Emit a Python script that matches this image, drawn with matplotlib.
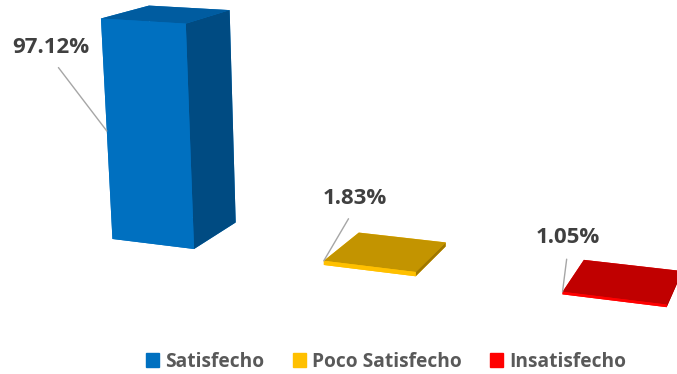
import numpy as np
import matplotlib
matplotlib.use('Agg')
import matplotlib.pyplot as plt
from matplotlib.patches import Patch
from mpl_toolkits.mplot3d import proj3d

plt.rcParams['font.family'] = ['Open Sans', 'DejaVu Sans']

categorias = ['Satisfecho', 'Poco Satisfecho', 'Insatisfecho']
porcentajes = [97.12, 1.83, 1.05]
etiquetas = ['97.12%', '1.83%', '1.05%']
colores = ['#0070C0', '#FFC000', '#FF0000']
colores_techo = ['#005CA0', '#C39400', '#C00000']
colores_lado = ['#004B82', '#A07800', '#A00000']

fig = plt.figure(figsize=(6.77, 3.74), dpi=100)
ax = fig.add_axes([0.062, 0.06, 1.0, 1.1], projection='3d')
ax.set_proj_type('persp', focal_length=0.6)
ax.view_init(elev=14, azim=-70)

x = np.arange(len(porcentajes))
ancho = 0.4
# caras de bar3d: abajo, arriba, frente, fondo, izquierda, derecha
caras = []
for i in range(len(porcentajes)):
    caras += [colores[i], colores_techo[i], colores[i], colores[i], colores[i], colores_lado[i]]
barras = ax.bar3d(x - ancho / 2, np.full(3, -ancho / 2), np.zeros(3), ancho, ancho, porcentajes,
                  color=caras, shade=False, edgecolor='none', linewidth=0)
barras.set_clip_on(False)

ax.set_xlim(-0.5, 2.5)
ax.set_ylim(-0.5, 0.5)
ax.set_zlim(0, 100)
ax.set_box_aspect((3, 1, 1.0), zoom=1.9)
ax.set_axis_off()

# etiquetas con linea guia hacia la esquina frontal izquierda
desplaz = [(-40, 60), (22, 45), (4, 39)]
for i, v in enumerate(porcentajes):
    zz = v / 2 if v > 50 else v
    px, py, _ = proj3d.proj_transform(x[i] - ancho / 2, -ancho / 2, zz, ax.get_proj())
    ax.annotate(etiquetas[i], xy=(px, py), xytext=desplaz[i], textcoords='offset points',
                ha='center', va='center', fontsize=16, fontweight='bold', color='#404040',
                annotation_clip=False, clip_on=False,
                arrowprops=dict(arrowstyle='-', color='#A6A6A6', lw=1, relpos=(0.5, 0),
                                shrinkA=6, shrinkB=0))

handles = [Patch(color=c, label=n) for c, n in zip(colores, categorias)]
fig.legend(handles=handles, loc='lower center', ncol=3, frameon=False,
           prop={'size': 13.8, 'weight': 'bold'}, labelcolor='#595959',
           handlelength=0.68, handleheight=0.68, handletextpad=0.31, columnspacing=1.5,
           bbox_to_anchor=(0.570, -0.04))

fig.savefig('out.png', dpi=100, facecolor='white')
